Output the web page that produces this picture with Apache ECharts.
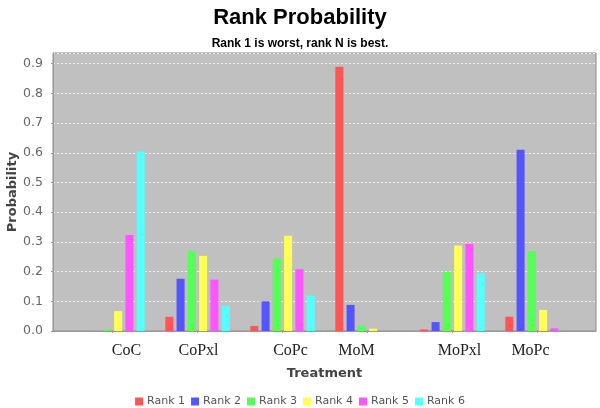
<!DOCTYPE html>
<html>
<head>
<meta charset="utf-8">
<script src="https://cdn.jsdelivr.net/npm/echarts@6/dist/echarts.min.js"></script>
<style>html,body{margin:0;padding:0;background:#fff}#c{width:600px;height:408px}</style>
</head>
<body>
<div id="c"></div>
<script>
// ---- data ----
var categories = ['CoC', 'CoPxl', 'CoPc', 'MoM', 'MoPxl', 'MoPc'];
var seriesNames = ['Rank 1', 'Rank 2', 'Rank 3', 'Rank 4', 'Rank 5', 'Rank 6'];
var rank1 = [0, 0.048, 0.017, 0.890, 0.005, 0.048];
var rank2 = [0, 0.176, 0.100, 0.088, 0.030, 0.610];
var rank3 = [0.006, 0.269, 0.245, 0.018, 0.199, 0.269];
var rank4 = [0.067, 0.253, 0.321, 0.008, 0.288, 0.071];
var rank5 = [0.323, 0.173, 0.208, 0, 0.293, 0.009];
var rank6 = [0.604, 0.085, 0.119, 0, 0.194, 0];
var yTickValues = [0, 0.1, 0.2, 0.3, 0.4, 0.5, 0.6, 0.7, 0.8, 0.9];

// ---- style ----
var colors = ['#ff5555', '#5555ff', '#55ff55', '#ffff55', '#ff55ff', '#55ffff'];
var labelShift = [28, 2, 16, -22, 14, -14]; // horizontal label offsets (px*2)
var allRanks = [rank1, rank2, rank3, rank4, rank5, rank6];

var rich = {};
labelShift.forEach(function (s, i) {
  rich['c' + i] = {
    fontFamily: 'Liberation Serif', fontSize: 16, color: '#222',
    padding: s >= 0 ? [0, 0, 0, s] : [0, -s, 0, 0]
  };
});

var chart = echarts.init(document.getElementById('c'));
chart.setOption({
  backgroundColor: '#ffffff',
  animation: false,
  color: colors,
  title: [
    { text: 'Rank Probability', left: 'center', top: 2,
      textStyle: { fontFamily: 'Liberation Sans', fontWeight: 'bold', fontSize: 22, color: '#000' } },
    { text: 'Rank 1 is worst, rank N is best.', left: 'center', top: 33,
      textStyle: { fontFamily: 'Liberation Sans', fontWeight: 'bold', fontSize: 12, color: '#000' } }
  ],
  legend: {
    data: seriesNames, left: 'center', top: 391,
    itemWidth: 8, itemHeight: 8, itemGap: 6, icon: 'rect',
    textStyle: { fontFamily: 'DejaVu Sans', fontSize: 11, color: '#555', padding: [0, 0, 0, -1] }
  },
  grid: [
    { left: 53, right: 4, top: 53, bottom: 77, show: true, backgroundColor: '#c0c0c0',
      borderColor: '#8c8c8c', borderWidth: 1, containLabel: false, outerBoundsMode: 'none' },
    { left: 70, right: 20, top: 53, bottom: 77, containLabel: false, outerBoundsMode: 'none' }
  ],
  xAxis: [
    { type: 'value', gridIndex: 0, min: 0, max: 1, offset: 3,
      name: 'Treatment', nameLocation: 'middle', nameGap: 33, nameMoveOverlap: false,
      nameTextStyle: { fontFamily: 'DejaVu Sans', fontWeight: 'bold', fontSize: 13, color: '#444' },
      axisLine: { show: true, lineStyle: { color: '#999', width: 1 } },
      axisTick: { show: false }, axisLabel: { show: false }, splitLine: { show: false } },
    { type: 'category', gridIndex: 1, data: categories, offset: 3,
      axisLine: { show: false },
      axisTick: { show: true, alignWithLabel: true, length: 2, lineStyle: { color: '#999' } },
      axisLabel: { margin: 9, formatter: function (v, i) { return '{c' + i + '|' + v + '}'; }, rich: rich },
      splitLine: { show: false } }
  ],
  yAxis: [
    { type: 'value', gridIndex: 0, min: 0, max: 0.936, interval: 0.1, offset: 2,
      name: 'Probability', nameLocation: 'middle', nameGap: 32, nameRotate: 90, nameMoveOverlap: false,
      nameTextStyle: { fontFamily: 'DejaVu Sans', fontWeight: 'bold', fontSize: 13, color: '#444' },
      axisLine: { show: true, lineStyle: { color: '#999' } },
      axisTick: { show: true, length: 2, lineStyle: { color: '#999' } },
      axisLabel: { showMaxLabel: false, margin: 8, fontFamily: 'DejaVu Sans', fontSize: 12.5, color: '#666',
        formatter: function (v) { return yTickValues.indexOf(Math.round(v * 10) / 10) >= 0 ? v.toFixed(1) : ''; } },
      splitLine: { show: true, lineStyle: { color: '#f0f0f0', type: [2, 2], width: 1 } } },
    { type: 'value', gridIndex: 1, min: 0, max: 0.936, show: false, splitLine: { show: false } }
  ],
  series: allRanks.map(function (d, i) {
    return {
      name: seriesNames[i], type: 'bar', xAxisIndex: 1, yAxisIndex: 1,
      data: d, barWidth: 8, barGap: '41%',
      itemStyle: { color: colors[i] }
    };
  })
});
</script>
</body>
</html>
